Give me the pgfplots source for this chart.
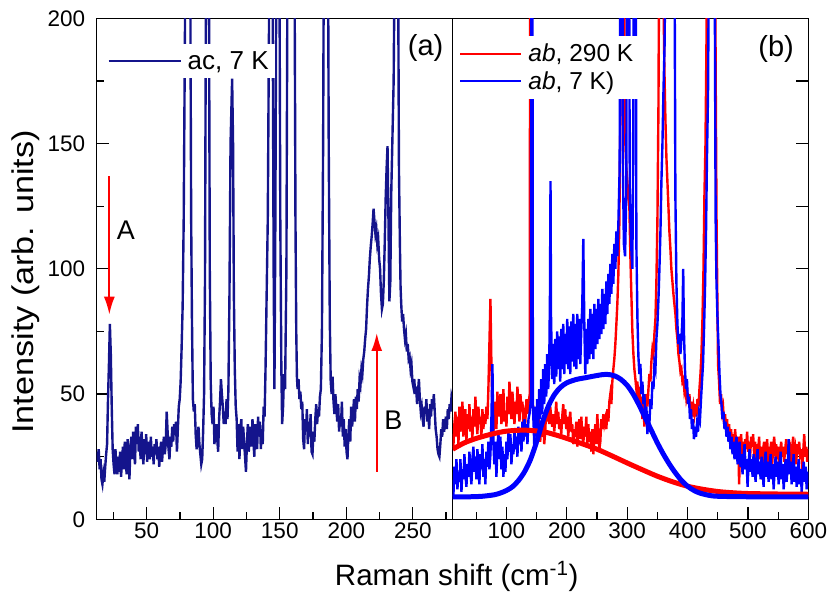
\documentclass[border=0pt]{standalone}
\usepackage{fontspec}
\setmainfont{Liberation Sans}
\usepackage{graphicx}
\usepackage{pgfplots}
\pgfplotsset{compat=1.18}
\usepackage{pgfplotstable}
\usetikzlibrary{arrows.meta}
\definecolor{navyc}{RGB}{20,20,140}
\definecolor{redc}{RGB}{255,0,0}
\definecolor{bluec}{RGB}{0,0,255}

\pgfplotstableread{
x y
12.5 27
13.2 23
13.9 28
14.6 20
15.3 24
16.0 16
16.7 14
17.4 18
18.1 15
18.8 21
19.5 26
20.2 30
20.9 48
21.6 62
22.3 78
23.0 66
23.7 45
24.4 28
25.1 22
25.8 18
26.5 28
27.2 21
27.9 18
28.6 25
29.3 19
30.0 27
30.7 17
31.4 23
32.1 29
32.8 20
33.5 31
34.2 24
34.9 18
35.6 32
36.3 26
37.0 16
37.7 28
38.4 33
39.1 24
39.8 35
40.5 27
41.2 22
41.9 37
42.6 30
43.3 38
44.0 27
44.7 33
45.4 24
46.1 35
46.8 28
47.5 22
48.2 32
48.9 26
49.6 34
50.3 23
51.0 31
51.7 27
52.4 24
53.1 33
53.8 25
54.5 29
55.2 22
55.9 30
56.6 26
57.3 32
58.0 24
58.7 29
59.4 21
60.1 27
60.8 31
61.5 23
62.2 28
62.9 33
63.6 26
64.3 30
65.0 43
65.7 35
66.4 28
67.1 24
67.8 33
68.5 29
69.2 37
69.9 31
70.6 38
71.3 34
72.0 39
72.7 27
73.4 36
74.1 45
74.8 48
75.5 55
76.2 68
77.0 85
77.8 120
79.3 240
80.3 400
81.5 400
82.6 240
83.4 120
84.0 80
84.7 48
85.4 43
86.1 46
86.8 34
87.5 28
88.2 31
88.9 37
89.6 30
90.3 26
91.0 22
91.7 24
92.4 35
93.1 50
93.8 95
94.6 230
95.8 400
96.7 230
97.4 100
98.1 55
98.8 42
99.5 38
100.2 45
100.9 30
101.6 35
102.3 38
103.0 32
103.7 27
104.4 40
105.1 47
105.8 56
106.5 50
107.2 45
107.9 38
108.6 43
109.3 38
110.0 48
110.7 40
111.4 52
112.2 90
113.0 150
114.2 176
114.9 150
115.5 90
116.2 60
116.9 45
117.6 40
118.3 27
119.0 38
119.7 24
120.4 36
121.1 40
121.8 28
122.5 37
123.2 31
123.9 25
124.6 19
125.3 30
126.0 38
126.7 27
127.4 33
128.1 37
128.8 29
129.5 40
130.2 31
130.9 25
131.6 38
132.3 34
133.0 28
133.7 41
134.4 33
135.1 39
135.8 28
136.5 36
137.2 30
137.9 45
138.6 41
139.3 60
141.0 120
142.3 230
143.4 400
144.5 230
145.4 100
146.0 52
146.7 120
147.6 250
148.6 400
149.6 250
150.4 120
151.2 60
151.8 38
152.5 45
153.2 58
154.0 52
155.0 100
155.9 240
158.5 400
161.0 240
161.8 120
162.4 75
162.9 57
163.4 52
164.1 56
164.8 48
165.5 51
166.2 44
166.9 47
167.6 32
168.3 28
169.0 40
169.7 35
170.4 44
171.1 30
171.8 39
172.5 33
173.2 42
173.9 27
174.6 26
175.3 35
176.0 31
176.7 40
177.4 46
178.1 38
178.8 44
179.5 41
180.2 49
180.9 52
181.7 75
182.6 150
183.6 300
184.7 400
185.8 300
186.8 150
187.6 80
188.3 55
189.0 50
189.7 57
190.4 47
191.1 42
191.8 50
192.5 45
193.2 39
193.9 46
194.6 35
195.3 41
196.0 37
196.7 47
197.4 33
198.1 40
198.8 29
199.5 36
200.2 27
200.9 24
201.6 34
202.3 40
203.0 31
203.7 45
204.4 37
205.1 42
205.8 48
206.5 39
207.2 49
207.9 44
208.6 52
209.3 47
210.0 56
210.7 54
211.4 60
212.1 58
212.8 64
213.5 67
214.2 72
214.9 76
215.6 85
216.3 92
217.0 97
217.7 104
218.4 109
219.1 113
219.8 118
220.5 124
221.2 119
221.9 114
222.6 116
223.3 110
224.0 112
224.7 104
225.4 100
226.1 90
226.8 84
227.5 86
228.2 95
228.9 110
229.6 128
230.3 140
231.0 149
231.7 120
232.4 87
233.1 95
233.8 130
234.6 150
235.6 175
236.6 240
237.8 300
238.9 230
239.6 140
240.3 110
240.8 93
241.3 86
242.0 79
242.7 82
243.4 76
244.1 72
244.8 74
245.5 67
246.2 70
246.9 64
247.6 65
248.3 60
249.0 62
249.7 55
250.4 53
251.1 56
251.8 50
252.5 53
253.2 46
253.9 51
254.6 56
255.3 48
256.0 43
256.7 45
257.4 40
258.1 37
258.8 45
259.5 42
260.2 48
260.9 39
261.6 44
262.3 36
263.0 46
263.7 41
264.4 48
265.1 44
265.8 50
266.5 43
267.2 36
267.9 33
268.6 28
269.3 26
270.0 25
270.7 30
271.4 36
272.1 33
272.8 40
273.5 35
274.2 38
274.9 41
275.6 36
276.3 44
277.0 40
277.7 46
278.4 43
279.1 49
279.9 47
}\acdata

\pgfplotstableread{
x y
12.1 29
13.8 38
15.5 43
17.2 33
18.8 41
20.5 30
22.1 45
23.8 35
25.5 39
27.1 47
28.8 33
30.4 40
32.0 44
33.7 31
35.4 42
37.0 36
38.7 46
40.3 35
42.0 41
43.6 32
45.3 44
47.0 37
48.6 49
50.3 39
51.9 34
53.6 45
55.2 38
56.9 41
58.5 33
60.2 44
61.8 36
63.5 42
65.1 38
66.8 45
68.5 40
70.1 52
71.8 70
73.5 88
75.1 62
76.8 45
78.4 35
80.0 40
81.7 47
83.4 36
85.0 51
86.7 41
88.3 45
90.0 50
91.7 38
93.3 44
95.0 52
96.6 39
98.3 43
100.0 37
101.6 49
103.3 42
105.0 55
106.6 46
108.3 40
109.9 51
111.6 44
113.3 38
114.9 47
116.6 42
118.2 53
119.9 45
121.6 39
123.2 50
124.9 43
126.5 47
128.2 37
129.9 42
131.5 40
133.2 48
134.8 42
136.5 46
138.6 50
139.4 300
140.2 300
141.0 50
142.7 45
144.3 45
146.0 38
147.6 44
149.3 40
150.9 35
152.6 42
154.3 36
155.9 31
157.6 37
159.2 33
160.9 40
162.6 30
164.2 35
165.9 44
167.5 39
169.2 46
170.9 38
172.5 45
174.2 41
175.8 37
177.5 42
179.2 35
180.8 40
182.5 47
184.1 38
185.8 43
187.5 36
189.1 40
190.8 34
192.4 41
194.1 46
195.8 38
197.4 44
199.1 36
200.7 41
202.4 33
204.1 39
205.7 43
207.4 35
209.0 38
210.7 30
212.4 36
214.0 33
215.7 39
217.3 29
219.0 35
220.7 40
222.3 32
224.0 41
225.6 34
227.3 30
229.0 37
230.6 33
232.3 41
233.9 29
235.6 38
237.3 31
238.9 35
240.6 27
242.2 36
243.9 26
245.6 33
247.2 38
248.9 30
250.5 42
252.2 34
253.9 28
255.5 31
257.2 40
258.8 36
260.5 42
262.2 38
263.8 40
265.5 36
267.1 44
268.8 39
270.5 47
272.1 50
273.8 46
275.4 55
277.1 60
278.7 64
280.4 70
282.1 78
283.7 86
285.4 98
287.0 118
288.7 160
290.3 250
292.0 400
293.7 300
295.3 200
297.0 150
298.6 140
300.3 135
302.0 128
303.6 125
305.3 105
306.9 90
308.6 75
310.3 66
311.9 60
313.6 56
315.2 52
316.9 55
318.6 47
320.2 53
321.9 44
323.5 49
325.2 40
326.9 46
328.5 37
330.2 44
331.8 50
333.5 45
335.2 52
336.8 58
338.5 55
340.1 63
341.8 68
343.5 66
345.1 74
346.8 80
348.4 95
350.1 120
351.8 165
353.4 250
355.5 400
357.5 400
359.5 220
361.6 180
363.3 160
364.9 145
366.6 135
368.3 125
369.9 115
371.6 108
373.2 100
374.9 95
376.6 90
378.2 86
379.9 82
381.5 76
383.2 72
384.9 66
386.5 63
388.2 59
389.8 60
391.5 55
393.2 56
394.8 51
396.5 53
398.1 48
399.8 50
401.5 46
403.1 50
404.8 42
406.4 47
408.1 41
409.8 45
411.4 42
413.1 46
414.7 41
416.4 48
418.1 45
419.7 52
421.4 58
423.0 66
424.7 80
426.4 100
428.0 130
429.7 150
431.3 190
433.0 260
436.0 400
441.0 400
444.5 300
446.5 180
448.0 120
449.7 80
450.5 62
452.2 55
453.8 46
455.5 50
457.1 43
458.8 45
460.5 38
462.1 42
463.8 36
465.4 40
467.1 33
468.8 38
470.4 31
472.1 36
473.7 30
475.4 34
477.1 27
478.7 36
480.4 31
482.0 25
483.7 33
485.4 14
487.0 29
488.7 34
490.3 26
492.0 31
493.6 24
495.3 32
497.0 28
498.6 35
500.3 27
501.9 31
503.6 25
505.3 33
506.9 29
508.6 34
510.2 26
511.9 31
513.6 22
515.2 30
516.9 27
518.5 33
520.2 24
521.9 29
523.5 16
525.2 28
526.8 31
528.5 24
530.2 27
531.8 32
533.5 23
535.1 29
536.8 26
538.5 31
540.1 22
541.8 28
543.4 33
545.1 27
546.8 30
548.4 24
550.1 29
551.7 21
553.4 27
555.1 31
556.7 25
558.4 29
560.0 23
561.7 28
563.4 32
565.0 26
566.7 30
568.3 24
570.0 27
571.7 21
573.3 29
575.0 33
576.6 25
578.3 28
580.0 22
581.6 30
583.3 26
584.9 31
586.6 24
588.3 28
589.9 20
591.6 27
593.2 34
594.9 25
596.6 29
598.2 23
599.9 28
}\redhot

\pgfplotstableread{
x y
12.1 9
13.8 21
15.5 14
17.2 24
18.8 12
20.5 19
22.1 15
23.8 24
25.5 11
27.1 20
28.8 16
30.4 26
32.0 18
33.7 13
35.4 22
37.0 17
38.7 27
40.3 19
42.0 14
43.6 24
45.3 29
47.0 19
48.6 25
50.3 16
51.9 28
53.6 21
55.2 14
56.9 26
58.5 20
60.2 30
61.8 17
63.5 24
65.1 14
66.8 27
68.5 21
70.1 31
71.8 20
73.5 26
75.1 40
76.8 62
78.4 30
80.0 22
81.7 31
83.4 17
85.0 28
86.7 35
88.3 24
90.0 33
91.7 20
93.3 29
95.0 17
96.6 26
98.3 19
100.0 31
101.6 24
103.3 35
105.0 27
106.6 34
108.3 22
109.9 30
111.6 26
113.3 36
114.9 28
116.6 33
118.2 25
119.9 37
121.6 30
123.2 36
124.9 27
126.5 39
128.2 31
129.9 40
131.5 33
133.2 38
134.8 30
136.5 40
138.2 42
140.6 48
141.6 300
142.2 400
142.8 300
143.8 45
145.0 38
146.0 30
147.6 45
149.3 33
150.9 48
152.6 36
154.3 52
155.9 40
157.6 56
159.2 42
160.9 60
162.6 46
164.2 62
165.9 49
167.5 66
169.2 52
170.9 62
172.1 90
173.0 135
173.9 80
175.8 56
177.5 70
179.2 54
180.8 72
182.5 57
184.1 75
185.8 60
187.5 73
189.1 55
190.8 76
192.4 60
194.1 78
195.8 58
197.4 74
199.1 62
200.7 80
202.4 60
204.1 77
205.7 58
207.4 79
209.0 63
210.7 82
212.4 61
214.0 78
215.7 60
217.3 82
219.0 64
220.7 80
222.3 62
224.0 76
225.6 85
227.3 112
229.0 78
230.6 58
232.3 76
233.9 62
235.6 80
237.3 64
238.9 84
240.6 66
242.2 82
243.9 64
245.6 86
247.2 68
248.9 84
250.5 70
252.2 88
253.9 72
255.5 86
257.2 74
258.8 92
260.5 76
262.2 90
263.8 78
265.5 95
267.1 82
268.8 98
270.5 86
272.1 102
273.8 90
275.4 106
277.1 94
278.7 110
280.4 100
282.1 115
283.7 105
285.4 118
287.5 140
289.0 260
290.4 400
291.8 260
293.0 140
294.5 110
296.5 105
298.5 130
300.0 260
301.4 400
302.8 260
304.3 130
306.5 110
308.5 100
309.8 140
311.1 260
312.5 400
313.9 260
315.2 110
317.0 80
318.6 65
320.2 58
321.9 62
323.5 50
325.2 55
326.9 46
328.5 50
330.2 40
331.8 45
333.5 34
335.2 42
336.8 38
338.5 48
340.1 44
341.8 55
343.5 52
345.1 62
346.8 60
348.4 72
350.1 78
351.8 88
353.4 100
355.1 115
356.7 135
358.4 150
360.0 170
362.0 190
364.5 260
366.5 400
376.0 400
378.0 260
379.8 130
381.5 95
383.2 78
384.9 70
386.5 74
388.2 66
389.8 72
391.5 80
392.8 100
394.0 75
395.7 60
397.4 52
399.0 56
400.7 46
402.3 49
404.0 40
405.7 44
407.3 36
409.0 40
410.6 32
412.3 37
414.0 33
415.6 38
417.3 35
418.9 42
420.6 40
422.3 48
423.9 55
425.6 62
427.2 75
428.9 92
430.6 115
432.2 145
433.9 170
435.5 230
439.0 400
443.5 400
444.8 230
446.5 120
447.9 95
449.6 80
451.2 70
452.9 58
454.5 50
456.2 46
457.9 40
459.5 43
461.2 36
462.8 39
464.5 33
466.2 37
467.8 31
469.5 35
471.1 28
472.8 33
474.5 26
476.1 31
477.8 24
479.4 29
481.1 33
482.8 22
484.4 27
486.1 31
487.7 21
489.4 26
491.1 18
492.7 25
494.4 30
496.1 20
497.7 24
499.4 13
501.0 22
502.7 28
504.4 19
506.0 24
507.7 17
509.3 26
511.0 21
512.7 15
514.3 24
516.0 28
517.6 18
519.3 23
521.0 16
522.6 25
524.3 20
525.9 13
527.6 22
529.3 27
530.9 17
532.6 23
534.2 15
535.9 21
537.6 26
539.2 16
540.9 22
542.6 12
544.2 20
545.9 25
547.5 17
549.2 23
550.9 14
552.5 21
554.2 27
555.8 16
557.5 22
559.2 12
560.8 19
562.5 24
564.1 15
565.8 21
567.5 32
569.1 18
570.8 23
572.4 14
574.1 20
575.8 26
577.4 15
579.1 21
580.7 13
582.4 19
584.1 24
585.7 14
587.4 20
589.0 11
590.7 18
592.4 23
594.0 15
595.7 21
597.3 12
599.0 19
599.9 16
}\bluecold

\pgfplotstableread{
x y
11 28
30 30.5
50 32.3
75 34
100 35.2
130 35.6
160 35
180 33.8
200 32.3
225 30.2
250 28
275 25.3
300 22.5
325 19.8
350 17.2
375 15
400 13.2
425 12
450 11.1
475 10.6
500 10.3
550 10.1
600 10
}\redfit

\pgfplotstableread{
x y
11 9
40 9
60 9.2
80 9.8
90 10.5
100 11.5
110 13
120 15.5
130 19
140 24
150 31
160 39
170 45.5
180 50
190 52.8
200 54.5
215 55.8
230 56.5
245 57.2
260 57.8
270 57.8
280 57.2
290 55.8
300 53.5
310 50
320 45.5
330 40.5
340 35.5
350 30.5
360 26
370 22
380 18.5
390 15.5
400 13.2
410 11.6
420 10.5
435 9.6
450 9.2
500 9
600 9
}\bluefit

\begin{document}
\begin{tikzpicture}
\path[use as bounding box] (0pt,0pt) rectangle (829pt,599pt);
\pgfplotsset{common/.style={
  scale only axis, height=500.8pt, ymin=0, ymax=200,
  anchor=south west,
  tick align=inside, major tick length=12pt, minor tick length=7pt,
  axis line style={line width=1.2pt},
  tick style={line width=1.2pt, black},
  tick label style={font=\fontsize{22.5}{24}\selectfont},
  /pgf/number format/assume math mode=true,
  legend cell align=left,
}}
\begin{axis}[common,
  at={(96.7pt,79.7pt)}, width=356pt,
  xmin=12.4, xmax=280,
  xtick={50,100,...,250}, minor xtick={25,75,...,275},
  ytick={0,50,...,200}, minor ytick={25,75,125,175},
  xtick pos=left, ytick pos=left,
  yticklabel style={xshift=-8pt},
  xlabel={Raman shift (cm\textsuperscript{-1})},
  xlabel style={font=\fontsize{29.5}{32}\selectfont, at={(axis description cs:1.0112,-0.1312)}, anchor=base},
  ylabel={\scalebox{1.14}[1]{Intensity (arb. units)}},
  ylabel style={font=\fontsize{30}{32}\selectfont, at={(axis description cs:-0.178,0.474)}, anchor=base},
  legend style={at={(0.018,0.949)}, anchor=north west, draw=none, fill=white,
    font=\fontsize{26}{28}\selectfont, inner xsep=4pt, inner ysep=5pt,
    /tikz/every odd column/.append style={column sep=4pt}},
  legend image code/.code={\draw[#1] (0pt,0pt) -- (72pt,0pt);},
]
\addplot[navyc, line width=2.4pt] table[x=x,y=y] {\acdata};
\addlegendentry{ac, 7 K}
\draw[redc, line width=2pt, -{Latex[length=18pt,width=11pt]}] (axis cs:21.9,137) -- (axis cs:21.9,81.7);
\draw[redc, line width=2pt, -{Latex[length=18pt,width=11pt]}] (axis cs:222.9,19) -- (axis cs:222.9,74.4);
\node[anchor=base, font=\fontsize{27}{30}\selectfont] at (axis cs:34.4,111.7) {A};
\node[anchor=base, font=\fontsize{27}{30}\selectfont] at (axis cs:235.4,35.7) {B};
\node[anchor=base, font=\fontsize{29}{32}\selectfont] at (axis cs:259.6,185.3) {(a)};
\end{axis}

\begin{axis}[common,
  at={(452.7pt,79.7pt)}, width=355.6pt,
  xmin=11, xmax=600,
  xtick={100,200,...,600}, minor xtick={50,150,...,550},
  ytick={0,25,...,200}, yticklabels={},
  xtick pos=left, ytick pos=right,
  legend style={at={(0.006,0.965)}, anchor=north west, draw=none, fill=white,
    font=\fontsize{24.5}{28}\selectfont, inner xsep=4pt, inner ysep=6pt, row sep=4pt,
    /tikz/every odd column/.append style={column sep=4pt}},
  legend image code/.code={\draw[#1] (0pt,0pt) -- (61pt,0pt);},
]
\addplot[redc, line width=2.4pt] table[x=x,y=y] {\redhot};
\addlegendentry{\textit{ab}, 290 K}
\addplot[bluec, line width=2.4pt] table[x=x,y=y] {\bluecold};
\addlegendentry{\textit{ab}, 7 K)}
\addplot[redc, line width=5pt, smooth, forget plot] table[x=x,y=y] {\redfit};
\addplot[bluec, line width=5pt, smooth, forget plot] table[x=x,y=y] {\bluefit};
\node[anchor=base, font=\fontsize{29}{32}\selectfont] at (axis cs:546.7,185) {(b)};
\end{axis}
\end{tikzpicture}
\end{document}
